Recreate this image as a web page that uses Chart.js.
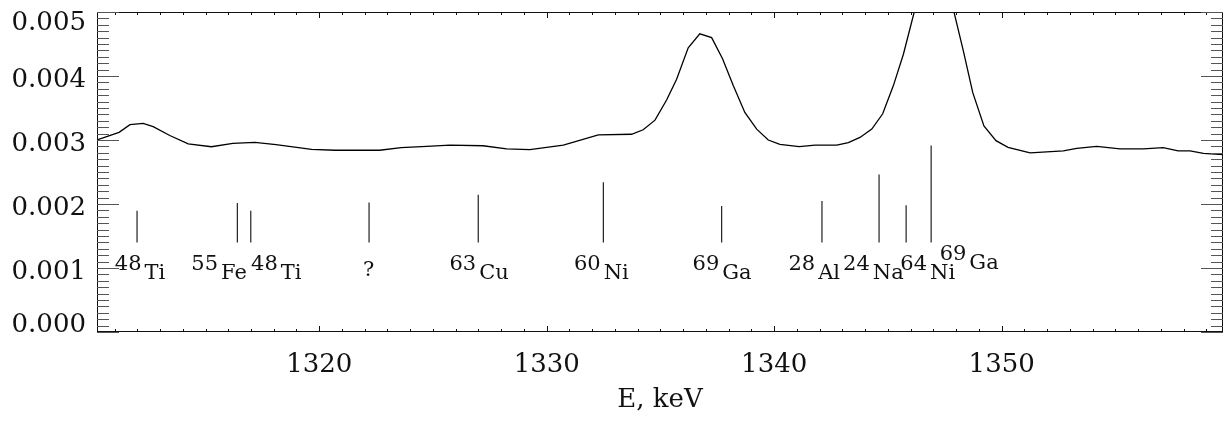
<!DOCTYPE html>
<html>
<head>
<meta charset="utf-8">
<script src="https://cdn.jsdelivr.net/npm/chart.js@4.4.0/dist/chart.umd.min.js"></script>
<style>
  html, body { margin: 0; background: #fff; }
</style>
</head>
<body>
<canvas id="spectrum" width="1226" height="421"></canvas>
<script>
// spectrum near 1332 keV, energies in keV
const energy = [
  1310.23, 1311.2, 1311.68, 1312.26, 1312.7, 1313.43, 1314.24, 1315.26, 1316.2, 1317.17,
  1318.1, 1319.66, 1320.69, 1322.66, 1323.6, 1324.72, 1325.74, 1327.2, 1328.24, 1329.26,
  1330.73, 1332.27, 1333.73, 1334.24, 1334.76, 1335.27, 1335.71, 1336.22, 1336.73, 1337.25,
  1337.73, 1338.2, 1338.71, 1339.23, 1339.74, 1340.25, 1341.1, 1341.8, 1342.75, 1343.26,
  1343.77, 1344.29, 1344.77, 1345.24, 1345.68, 1346.2, 1346.7, 1347.2, 1347.7, 1348.31,
  1348.73, 1349.22, 1349.75, 1350.28, 1351.25, 1352.71, 1353.3, 1354.18, 1355.2, 1356.23,
  1357.1, 1357.76, 1358.28, 1358.87, 1359.73
];
const counts = [
  0.00300, 0.00312, 0.00324, 0.00326, 0.00321, 0.00307, 0.00294, 0.002895, 0.002947, 0.002963,
  0.002927, 0.002853, 0.00284, 0.00284, 0.00288, 0.00290, 0.00292, 0.00291, 0.00286, 0.00285,
  0.00292, 0.00308, 0.00309, 0.00316, 0.00331, 0.003625, 0.00395, 0.00444, 0.00466, 0.00460,
  0.00427, 0.00385, 0.00343, 0.00317, 0.00300, 0.00293, 0.002895, 0.00292, 0.00292, 0.00296,
  0.00304, 0.00317, 0.00341, 0.00385, 0.00434, 0.00506, 0.00570, 0.00590, 0.00530, 0.00440,
  0.00374, 0.00322, 0.00299, 0.002885, 0.00280, 0.00283, 0.00287, 0.00290, 0.00286, 0.00286,
  0.00288, 0.00283, 0.00283, 0.00279, 0.00277
];

// identified gamma lines
const lineEnergy = [1311.99, 1316.40, 1316.99, 1322.19, 1326.99, 1332.49, 1337.69, 1342.10, 1344.61, 1345.80, 1346.90];
const lineTop = [0.001895, 0.002015, 0.001895, 0.002025, 0.002145, 0.00234, 0.00197, 0.002045, 0.00246, 0.00198, 0.002915];
const lineBottom = 0.0014;

const labelMass = ['48', '55', '48', '', '63', '60', '69', '28', '24', '64', '69'];
const labelElem = ['Ti', 'Fe', 'Ti', '?', 'Cu', 'Ni', 'Ga', 'Al', 'Na', 'Ni', 'Ga'];
const labelEnergy = [1312.12, 1315.60, 1318.11, 1322.17, 1327.03, 1332.40, 1337.71, 1341.76, 1344.36, 1346.75, 1348.57];
const labelBase = [0.00083, 0.00083, 0.00083, 0.00088, 0.00083, 0.00083, 0.00083, 0.00083, 0.00083, 0.00083, 0.00098];

const xTicks = [1320, 1330, 1340, 1350];
const yTicks = [0, 0.001, 0.002, 0.003, 0.004, 0.005];
const xMin = 1310.23, xMax = 1359.73;
const xMinor = 1, yMinor = 0.0001;

const FONT = 'DejaVu Serif';

const spectrumPts = energy.map((e, i) => ({ x: e, y: counts[i] }));
const linePts = [];
lineEnergy.forEach((e, i) => {
  linePts.push({ x: e, y: lineBottom }, { x: e, y: lineTop[i] }, { x: e, y: null });
});

// box frame, inward ticks, y labels and isotope labels
const decor = {
  id: 'decor',
  afterDatasetsDraw(chart) {
    const { ctx, chartArea: a, scales: { x, y } } = chart;
    ctx.save();
    ctx.strokeStyle = '#111';
    ctx.lineWidth = 1;
    const seg = (x1, y1, x2, y2) => { ctx.beginPath(); ctx.moveTo(x1, y1); ctx.lineTo(x2, y2); ctx.stroke(); };

    ctx.strokeRect(a.left + 0.5, a.top + 0.5, a.width - 1, a.height - 1);

    for (let e = Math.ceil(xMin); e <= xMax; e += xMinor) {
      const px = Math.round(x.getPixelForValue(e)) + 0.5;
      const len = e % 10 === 0 ? 6 : 3;
      seg(px, a.bottom, px, a.bottom - len);
      seg(px, a.top, px, a.top + len);
    }
    ctx.strokeStyle = '#555';
    for (let i = 0; i <= Math.round(0.005 / yMinor); i++) {
      const py = Math.round(y.getPixelForValue(i * yMinor)) + 0.5;
      const len = i % 10 === 0 ? 22 : 12;
      seg(a.left, py, a.left + len, py);
      seg(a.right, py, a.right - len, py);
    }

    ctx.fillStyle = '#111';
    ctx.font = `26px "${FONT}"`;
    ctx.textAlign = 'right';
    ctx.textBaseline = 'alphabetic';
    yTicks.forEach(v => {
      let base = y.getPixelForValue(v) + 11;
      base = Math.min(Math.max(base, a.top + 18), a.bottom);
      ctx.fillText(v.toFixed(3), a.left - 11, base);
    });

    ctx.font = `21px "${FONT}"`;
    ctx.textAlign = 'left';
    labelElem.forEach((el, i) => {
      const cx = x.getPixelForValue(labelEnergy[i]);
      const base = y.getPixelForValue(labelBase[i]);
      const wm = labelMass[i] ? ctx.measureText(labelMass[i]).width + 3 : 0;
      const we = ctx.measureText(el).width;
      const x0 = cx - (wm + we) / 2;
      if (labelMass[i]) ctx.fillText(labelMass[i], x0, base - 9);
      ctx.fillText(el, x0 + wm, base);
    });
    ctx.restore();
  }
};

new Chart(document.getElementById('spectrum'), {
  type: 'line',
  data: {
    datasets: [
      {
        data: spectrumPts,
        borderColor: '#000',
        borderWidth: 1.3,
        pointRadius: 0,
        tension: 0
      },
      {
        data: linePts,
        borderColor: '#222',
        borderWidth: 1.2,
        pointRadius: 0,
        spanGaps: false
      }
    ]
  },
  options: {
    responsive: false,
    devicePixelRatio: 1,
    animation: false,
    layout: { padding: { left: 0, top: 12, right: 3, bottom: 0 } },
    plugins: { legend: { display: false }, tooltip: { enabled: false } },
    scales: {
      x: {
        type: 'linear',
        position: 'bottom',
        min: xMin,
        max: xMax,
        grid: { display: false },
        border: { display: false },
        afterBuildTicks: s => { s.ticks = xTicks.map(value => ({ value })); },
        afterFit: s => { s.height = 89; },
        ticks: {
          font: { family: FONT, size: 26 },
          color: '#111',
          padding: 10,
          maxRotation: 0,
          autoSkip: false,
          callback: v => String(v)
        },
        title: {
          display: true,
          text: 'E, keV',
          font: { family: FONT, size: 26 },
          color: '#111',
          padding: { top: 0, bottom: 5 }
        }
      },
      y: {
        min: 0,
        max: 0.005,
        grid: { display: false },
        border: { display: false },
        ticks: { display: false },
        afterFit: s => { s.width = 97; }
      }
    }
  },
  plugins: [decor]
});
</script>
</body>
</html>
